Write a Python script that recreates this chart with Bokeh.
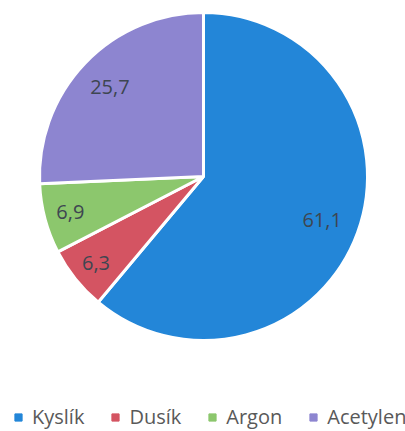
import math
from bokeh.plotting import figure
from bokeh.models import Range1d, ColumnDataSource, Legend, LegendItem
from bokeh.core.properties import value
from bokeh.embed import file_html
from bokeh.resources import INLINE

categories = ["Kyslík", "Dusík", "Argon", "Acetylen"]
values = [61.1, 6.3, 6.9, 25.7]
labels = ["61,1", "6,3", "6,9", "25,7"]
colors = ["#2386D8", "#D45462", "#8CC76D", "#8D85D0"]
label_radius_frac = [0.77, 0.84, 0.84, 0.79]

W, H = 405, 431
cx, cy, R = 203, 255, 164

total = sum(values)
starts, ends, lx, ly = [], [], [], []
acc = 0.0
for v, f in zip(values, label_radius_frac):
    a0 = math.pi / 2 - 2 * math.pi * acc / total
    a1 = math.pi / 2 - 2 * math.pi * (acc + v) / total
    starts.append(a0)
    ends.append(a1)
    mid = (a0 + a1) / 2
    lx.append(cx + f * R * math.cos(mid))
    ly.append(cy + f * R * math.sin(mid))
    acc += v

src = ColumnDataSource(dict(start=starts, end=ends, color=colors, cat=categories,
                            lx=lx, ly=ly, label=labels))

p = figure(width=W, height=H, output_backend="svg", toolbar_location=None,
           x_range=Range1d(0, W), y_range=Range1d(0, H), min_border=0)
p.axis.visible = False
p.grid.visible = False
p.outline_line_color = None
p.background_fill_color = "white"

p.wedge(x=cx, y=cy, radius=R, start_angle="start", end_angle="end", direction="clock",
        fill_color="color", line_color="white", line_width=3, source=src)

p.text(x="lx", y="ly", text="label", source=src, text_align="center",
       text_baseline="middle", text_font=value("Open Sans"), text_font_size="20px",
       text_color="#3E4651")

items = []
for c, col in zip(categories, colors):
    r = p.scatter(x=[-1000], y=[-1000], marker="square", size=8, fill_color=col, line_color=col)
    items.append(LegendItem(label=c, renderers=[r]))

legend = Legend(items=items, orientation="horizontal", location=(9, 1),
                glyph_width=18, glyph_height=18, label_standoff=5, spacing=22,
                label_text_font="Open Sans", label_text_font_size="20px",
                label_text_color="#595959", border_line_color=None,
                background_fill_alpha=0, padding=0, margin=0)
p.add_layout(legend, "center")

open("out.html", "w").write(file_html(p, INLINE))
